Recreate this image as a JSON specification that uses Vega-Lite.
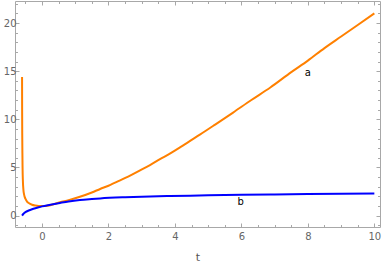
{
  "$schema": "https://vega.github.io/schema/vega-lite/v6.json",
  "width": 365,
  "height": 226,
  "autosize": {"type": "none"},
  "padding": {"left": 15, "top": 1, "right": 2, "bottom": 37},
  "config": {
    "view": {"stroke": "#a8a8a8", "strokeWidth": 1},
    "axis": {
      "grid": false,
      "domain": false,
      "tickColor": "#a8a8a8",
      "labelColor": "#666666",
      "labelFont": "DejaVu Sans",
      "labelFontSize": 10,
      "labelOverlap": false,
      "titleFont": "DejaVu Sans",
      "titleFontSize": 11,
      "titleFontWeight": "normal",
      "titleColor": "#555555"
    }
  },
  "datasets": {
    "curves": [
      {"t": -0.6, "v": 14.4, "s": "a"},
      {"t": -0.598, "v": 11, "s": "a"},
      {"t": -0.595, "v": 8.5, "s": "a"},
      {"t": -0.59, "v": 6.5, "s": "a"},
      {"t": -0.585, "v": 5, "s": "a"},
      {"t": -0.575, "v": 3.6, "s": "a"},
      {"t": -0.56, "v": 2.7, "s": "a"},
      {"t": -0.54, "v": 2.2, "s": "a"},
      {"t": -0.5, "v": 1.75, "s": "a"},
      {"t": -0.45, "v": 1.45, "s": "a"},
      {"t": -0.4, "v": 1.3, "s": "a"},
      {"t": -0.3, "v": 1.12, "s": "a"},
      {"t": -0.2, "v": 1.04, "s": "a"},
      {"t": -0.1, "v": 1.0, "s": "a"},
      {"t": 0, "v": 0.99, "s": "a"},
      {"t": 0.25, "v": 1.08, "s": "a"},
      {"t": 0.54, "v": 1.38, "s": "a"},
      {"t": 0.8, "v": 1.6, "s": "a"},
      {"t": 1.14, "v": 1.95, "s": "a"},
      {"t": 1.5, "v": 2.4, "s": "a"},
      {"t": 1.75, "v": 2.76, "s": "a"},
      {"t": 2, "v": 3.1, "s": "a"},
      {"t": 2.35, "v": 3.65, "s": "a"},
      {"t": 2.65, "v": 4.15, "s": "a"},
      {"t": 2.95, "v": 4.7, "s": "a"},
      {"t": 3.25, "v": 5.25, "s": "a"},
      {"t": 3.55, "v": 5.85, "s": "a"},
      {"t": 3.86, "v": 6.45, "s": "a"},
      {"t": 4.25, "v": 7.3, "s": "a"},
      {"t": 4.75, "v": 8.4, "s": "a"},
      {"t": 5.21, "v": 9.45, "s": "a"},
      {"t": 5.75, "v": 10.7, "s": "a"},
      {"t": 6.3, "v": 12.0, "s": "a"},
      {"t": 6.87, "v": 13.3, "s": "a"},
      {"t": 7.5, "v": 14.9, "s": "a"},
      {"t": 8, "v": 16.1, "s": "a"},
      {"t": 8.5, "v": 17.4, "s": "a"},
      {"t": 9, "v": 18.6, "s": "a"},
      {"t": 9.5, "v": 19.8, "s": "a"},
      {"t": 10, "v": 21.0, "s": "a"},
      {"t": -0.6, "v": 0.0, "s": "b"},
      {"t": -0.55, "v": 0.22, "s": "b"},
      {"t": -0.5, "v": 0.35, "s": "b"},
      {"t": -0.4, "v": 0.52, "s": "b"},
      {"t": -0.3, "v": 0.65, "s": "b"},
      {"t": -0.2, "v": 0.76, "s": "b"},
      {"t": -0.1, "v": 0.86, "s": "b"},
      {"t": 0, "v": 0.95, "s": "b"},
      {"t": 0.25, "v": 1.12, "s": "b"},
      {"t": 0.54, "v": 1.31, "s": "b"},
      {"t": 0.8, "v": 1.47, "s": "b"},
      {"t": 1.14, "v": 1.62, "s": "b"},
      {"t": 1.5, "v": 1.72, "s": "b"},
      {"t": 1.75, "v": 1.78, "s": "b"},
      {"t": 2.5, "v": 1.9, "s": "b"},
      {"t": 3, "v": 1.96, "s": "b"},
      {"t": 3.86, "v": 2.03, "s": "b"},
      {"t": 5, "v": 2.1, "s": "b"},
      {"t": 6, "v": 2.15, "s": "b"},
      {"t": 7, "v": 2.19, "s": "b"},
      {"t": 8, "v": 2.23, "s": "b"},
      {"t": 9, "v": 2.26, "s": "b"},
      {"t": 10, "v": 2.28, "s": "b"}
    ],
    "labels": [
      {"t": 8.0, "v": 14.8, "s": "a"},
      {"t": 5.98, "v": 1.38, "s": "b"}
    ]
  },
  "layer": [
    {
      "data": {"name": "curves"},
      "mark": {"type": "line", "strokeWidth": 2, "interpolate": "monotone", "clip": true},
      "encoding": {
        "x": {
          "field": "t", "type": "quantitative",
          "scale": {"domain": [-0.8125, 10.17], "nice": false, "zero": false},
          "axis": {
            "orient": "bottom",
            "values": [-0.5, 0, 0.5, 1, 1.5, 2, 2.5, 3, 3.5, 4, 4.5, 5, 5.5, 6, 6.5, 7, 7.5, 8, 8.5, 9, 9.5, 10],
            "format": "~g",
            "labelExpr": "datum.value % 2 === 0 ? datum.label : ''",
            "tickSize": {"condition": {"test": "datum.value % 2 === 0", "value": -4}, "value": -2.5},
            "labelPadding": 8,
            "title": "t",
            "titlePadding": 9
          }
        },
        "y": {
          "field": "v", "type": "quantitative",
          "scale": {"domain": [-1.19, 22.29], "nice": false, "zero": false},
          "axis": {
            "orient": "left",
            "values": [-1, 0, 1, 2, 3, 4, 5, 6, 7, 8, 9, 10, 11, 12, 13, 14, 15, 16, 17, 18, 19, 20, 21, 22],
            "format": "~g",
            "labelExpr": "datum.value % 5 === 0 ? datum.label : ''",
            "tickSize": {"condition": {"test": "datum.value % 5 === 0", "value": -4}, "value": -2.5},
            "labelPadding": 3,
            "title": null
          }
        },
        "color": {
          "field": "s", "type": "nominal",
          "scale": {"domain": ["a", "b"], "range": ["#ff8000", "#0000ff"]},
          "legend": null
        }
      }
    },
    {
      "data": {"name": "labels"},
      "mark": {"type": "text", "font": "DejaVu Sans", "fontSize": 10, "color": "#000000"},
      "encoding": {
        "x": {
          "field": "t", "type": "quantitative",
          "axis": {
            "orient": "top",
            "values": [-0.5, 0, 0.5, 1, 1.5, 2, 2.5, 3, 3.5, 4, 4.5, 5, 5.5, 6, 6.5, 7, 7.5, 8, 8.5, 9, 9.5, 10],
            "labels": false,
            "tickSize": {"condition": {"test": "datum.value % 2 === 0", "value": -4}, "value": -2.5},
            "title": null
          }
        },
        "y": {
          "field": "v", "type": "quantitative",
          "axis": {
            "orient": "right",
            "values": [-1, 0, 1, 2, 3, 4, 5, 6, 7, 8, 9, 10, 11, 12, 13, 14, 15, 16, 17, 18, 19, 20, 21, 22],
            "labels": false,
            "tickSize": {"condition": {"test": "datum.value % 5 === 0", "value": -4}, "value": -2.5},
            "title": null
          }
        },
        "text": {"field": "s", "type": "nominal"}
      }
    }
  ],
  "resolve": {"axis": {"x": "independent", "y": "independent"}}
}
